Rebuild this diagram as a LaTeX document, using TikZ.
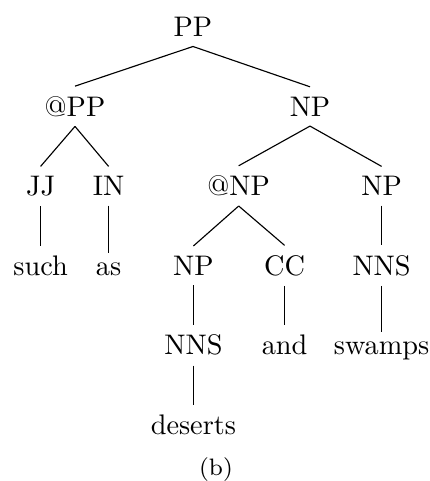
\documentclass[tikz,border=0pt]{standalone}
\tikzset{
  cat/.style={anchor=base,inner sep=3.33pt,font=\normalsize},
  word/.style={cat},
  branch/.style={draw=black,line width=0.4pt},
  caption/.style={anchor=base,inner sep=0pt,font=\fontsize{8.4}{10}\selectfont}
}

\begin{document}
\begin{tikzpicture}[x=0.3534pt,y=-0.3534pt]
  \useasboundingbox (0,0) rectangle (430,481);

  % one row of nodes per tree level
  \node[cat] (pp) at (193,36.5) {PP};
  \node[cat] (atpp) at (75,116.1) {@PP};
  \node[cat] (np) at (310,116.1) {NP};
  \node[cat] (jj) at (40.6,195.7) {JJ};
  \node[cat] (in) at (108.6,195.7) {IN};
  \node[cat] (atnp) at (238.7,195.7) {@NP};
  \node[cat] (npr) at (381.6,195.7) {NP};
  \node[word] (such) at (40.6,275.3) {such};
  \node[word] (as) at (108.6,275.3) {as};
  \node[cat] (npl) at (193.4,275.3) {NP};
  \node[cat] (cc) at (284.6,275.3) {CC};
  \node[cat] (nnsr) at (381.6,275.3) {NNS};
  \node[cat] (nnsl) at (193.4,354.9) {NNS};
  \node[word] (and) at (284.6,354.9) {and};
  \node[word] (swamps) at (381.6,354.9) {swamps};
  \node[word] (deserts) at (193.4,434.5) {deserts};
  \node[caption] (sub) at (216,475.5) {(b)};

  % branches, parent to child
  \foreach \a/\b in {pp/atpp,pp/np,atpp/jj,atpp/in,np/atnp,np/npr,
                     jj/such,in/as,atnp/npl,atnp/cc,npr/nnsr,
                     npl/nnsl,cc/and,nnsr/swamps,nnsl/deserts}
    \draw[branch] (\a.south) -- (\b.north);
\end{tikzpicture}
\end{document}
